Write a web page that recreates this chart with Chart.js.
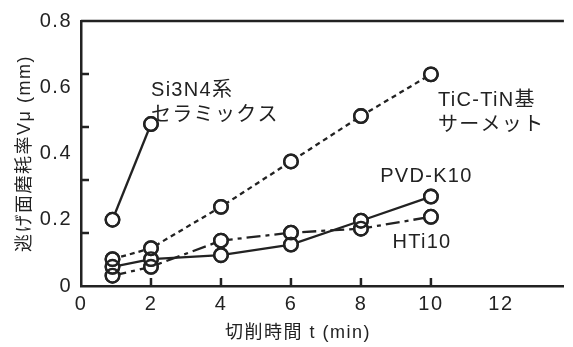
<!DOCTYPE html>
<html>
<head>
<meta charset="utf-8">
<script src="https://cdn.jsdelivr.net/npm/chart.js@4.4.1/dist/chart.umd.min.js"></script>
<style>
  html, body { margin: 0; background: #fff; }
  #wrap { width: 573px; height: 347px; }
</style>
</head>
<body>
<div id="wrap"><canvas id="chart"></canvas></div>
<script>
/* ── Wear rate vs cutting time ─────────────────────────────────── */

// data
const timeMin   = [0.9, 2, 4, 6, 8, 10];
const si3n4Wear = [0.200, 0.489];                                // only first two times
const ticTinWear = [0.081, 0.114, 0.239, 0.376, 0.513, 0.639];
const pvdK10Wear = [0.058, 0.081, 0.093, 0.125, 0.197, 0.270];
const hti10Wear  = [0.031, 0.058, 0.137, 0.161, 0.173, 0.209];

const xTickLabels = [0, 2, 4, 6, 8, 10, 12];
const yTickLabels = [0, 0.2, 0.4, 0.6, 0.8];
const xTickMarks  = [2, 4, 6, 8, 10];
const yTickMarks  = [0.16, 0.32, 0.48, 0.64];

const xTitle = '切削時間 t (min)';
const yTitle = '逃げ面磨耗率Vμ (mm)';

const seriesLabels = [
  { lines: ['Si3N4系', 'セラミックス'], x: 2.0,  y: 0.591 },
  { lines: ['TiC-TiN基', 'サーメット'], x: 10.2, y: 0.561 },
  { lines: ['PVD-K10'],                 x: 8.55, y: 0.330 },
  { lines: ['HTi10'],                   x: 8.9,  y: 0.130 },
];

// ── style ─────────────────────────────────────────────────────────
const INK  = '#222';
const FONT = '"Liberation Sans", "Noto Sans CJK JP", sans-serif';

const toPts = (xs, ys) => ys.map((y, i) => ({ x: xs[i], y }));

const series = [
  { data: toPts(timeMin, si3n4Wear),  dash: [] },
  { data: toPts(timeMin, ticTinWear), dash: [5, 4] },
  { data: toPts(timeMin, pvdK10Wear), dash: [] },
  { data: toPts(timeMin, hti10Wear),  dash: [14, 5, 4, 5] },
];

// lines first, then white-filled markers, then outlines on top
const datasets = [];
series.forEach(s => datasets.push({
  data: s.data, order: 3, showLine: true, borderColor: INK, borderWidth: 2.3,
  borderDash: s.dash, pointRadius: 0, tension: 0, fill: false,
}));
series.forEach(s => datasets.push({
  data: s.data, order: 2, showLine: false, pointRadius: 6.8,
  pointBackgroundColor: '#fff', pointBorderColor: INK, pointBorderWidth: 2.3,
}));
series.forEach(s => datasets.push({
  data: s.data, order: 1, showLine: false, pointRadius: 6.8,
  pointBackgroundColor: 'rgba(0,0,0,0)', pointBorderColor: INK, pointBorderWidth: 2.3,
}));

// inward tick marks + top frame line + in-plot labels + x title
const framePlugin = {
  id: 'frame',
  beforeDraw(chart) { chart.ctx.letterSpacing = '1.5px'; },
  beforeDatasetsDraw(chart) {
    const { ctx, chartArea: a, scales: { x, y } } = chart;
    ctx.save();
    ctx.strokeStyle = INK;
    ctx.lineWidth = 2.5;
    ctx.beginPath();
    ctx.moveTo(a.left, a.top);
    ctx.lineTo(a.right, a.top);
    xTickMarks.forEach(v => {
      const px = x.getPixelForValue(v);
      ctx.moveTo(px, a.bottom);
      ctx.lineTo(px, a.bottom - 8);
    });
    yTickMarks.forEach(v => {
      const py = y.getPixelForValue(v);
      ctx.moveTo(a.left, py);
      ctx.lineTo(a.left + 8, py);
    });
    ctx.stroke();
    ctx.restore();
  },
  afterDatasetsDraw(chart) {
    const { ctx, chartArea: a, scales: { x, y } } = chart;
    ctx.save();
    ctx.fillStyle = INK;
    ctx.font = '20px ' + FONT;
    ctx.letterSpacing = '1.3px';
    ctx.textAlign = 'left';
    ctx.textBaseline = 'middle';
    seriesLabels.forEach(l => {
      const px = x.getPixelForValue(l.x), py = y.getPixelForValue(l.y);
      l.lines.forEach((t, i) => ctx.fillText(t, px, py + i * 25));
    });
    // x axis title sits a little left of the axis centre in the original
    ctx.font = '18px ' + FONT;
    ctx.letterSpacing = '1.5px';
    ctx.textAlign = 'center';
    ctx.fillText(xTitle, x.getPixelForValue(6.2), a.bottom + 47);
    ctx.restore();
  },
  afterDraw(chart) { chart.ctx.letterSpacing = '0px'; },
};

const tickFont  = { family: FONT, size: 20 };
const titleFont = { family: FONT, size: 18 };

new Chart(document.getElementById('chart'), {
  type: 'scatter',
  data: { datasets },
  options: {
    responsive: true,
    maintainAspectRatio: false,
    animation: false,
    layout: { padding: { top: 18, right: 0, bottom: 0, left: 0 } },
    plugins: { legend: { display: false }, tooltip: { enabled: false } },
    scales: {
      x: {
        type: 'linear', min: 0, max: 13.8,
        afterBuildTicks: s => { s.ticks = xTickLabels.map(v => ({ value: v })); },
        afterFit: s => { s.height = 61; },
        ticks: { font: tickFont, color: INK, padding: 6, maxRotation: 0, autoSkip: false },
        grid: { display: false, drawTicks: false },
        border: { color: INK, width: 2.5 },
      },
      y: {
        type: 'linear', min: 0, max: 0.8,
        afterBuildTicks: s => { s.ticks = yTickLabels.map(v => ({ value: v })); },
        afterFit: s => { s.width = 81; },
        ticks: {
          font: tickFont, color: INK, padding: 9,
          callback: v => v === 0 ? '0' : v.toFixed(1),
        },
        grid: { display: false, drawTicks: false },
        border: { color: INK, width: 2.5 },
        title: { display: true, text: yTitle, font: titleFont, color: INK, padding: { top: 14, bottom: 0 } },
      },
    },
  },
  plugins: [framePlugin],
});
</script>
</body>
</html>
